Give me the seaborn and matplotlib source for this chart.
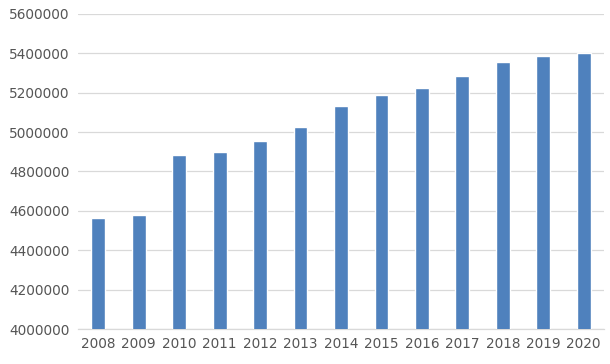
import matplotlib
matplotlib.use("Agg")
import matplotlib.pyplot as plt
import seaborn as sns
import pandas as pd

years = ["2008", "2009", "2010", "2011", "2012", "2013", "2014",
         "2015", "2016", "2017", "2018", "2019", "2020"]
values = [4565000, 4580000, 4882000, 4900000, 4952000, 5028000, 5130000,
          5190000, 5226000, 5282000, 5355000, 5384000, 5400000]
yticks = [4000000, 4200000, 4400000, 4600000, 4800000, 5000000, 5200000, 5400000, 5600000]

sns.set_theme(style="white")
plt.rcParams['font.family'] = ['DejaVu Sans']

df = pd.DataFrame({"year": years, "value": values})

fig = plt.figure(figsize=(6.1, 3.64), dpi=100)
ax = fig.add_axes([0.128, 0.096, 0.862, 0.866])
sns.barplot(data=df, x="year", y="value", color="#4F81BD", saturation=1,
            width=0.34, ax=ax, zorder=3)

ax.set_ylim(4000000, 5600000)
ax.set_yticks(yticks)
ax.set_yticklabels([str(t) for t in yticks])
ax.set_xlim(-0.5, len(years) - 0.5)
ax.yaxis.grid(True, color="#D9D9D9", linewidth=0.9, zorder=0)
ax.set_axisbelow(True)
for s in ["top", "right", "left"]:
    ax.spines[s].set_visible(False)
ax.spines["bottom"].set_color("#D9D9D9")
ax.spines["bottom"].set_linewidth(0.9)
ax.tick_params(axis="both", length=0, labelsize=9.8, colors="#555555", pad=6)
ax.set_xlabel("")
ax.set_ylabel("")

fig.savefig("out.png", dpi=100)
